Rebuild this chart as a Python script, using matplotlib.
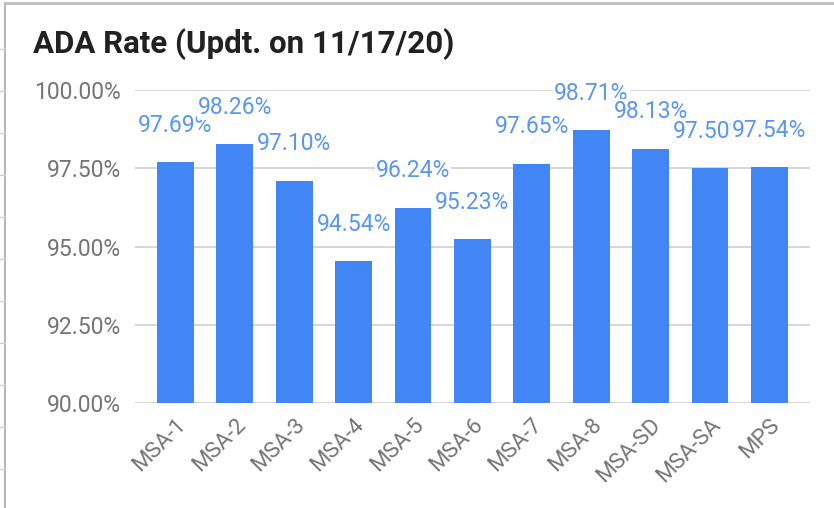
import matplotlib
matplotlib.use("Agg")

import matplotlib.pyplot as plt
from matplotlib.lines import Line2D
from matplotlib.ticker import FuncFormatter

plt.rcParams["font.family"] = ["Roboto", "DejaVu Sans"]

# data
categories = ["MSA-1", "MSA-2", "MSA-3", "MSA-4", "MSA-5", "MSA-6",
              "MSA-7", "MSA-8", "MSA-SD", "MSA-SA", "MPS"]
ada_rate = [97.69, 98.26, 97.10, 94.54, 96.24, 95.23,
            97.65, 98.71, 98.13, 97.50, 97.54]
y_ticks = [90.0, 92.5, 95.0, 97.5, 100.0]
title = "ADA Rate (Updt. on 11/17/20)"

BAR = "#4285F4"
LABEL = "#5A96F6"
GRID = "#CCCCCC"
TICK = "#757575"

fig = plt.figure(figsize=(8.34, 5.08), dpi=100)
ax = fig.add_axes([0.162, 0.2067, 0.809, 0.6161])

x = range(len(categories))
ax.bar(x, ada_rate, width=0.62, color=BAR, zorder=2)
# labels sit on an opaque white box, like the sheets chart (cuts gridlines, later label covers earlier)
for xi, v in zip(x, ada_rate):
    ax.annotate(f"{v:.2f}%", (xi, v), xytext=(0, 26.5), textcoords="offset points",
                ha="center", va="center", fontsize=16.5, color=LABEL, zorder=3,
                bbox=dict(boxstyle="square,pad=0.05", fc="white", ec="none"))

ax.set_ylim(90, 100)
ax.set_xlim(-0.68, len(categories) - 1 + 0.68)
ax.set_yticks(y_ticks)
ax.yaxis.set_major_formatter(FuncFormatter(lambda v, _: f"{v:.2f}%"))
ax.grid(axis="y", color=GRID, linewidth=1.1, zorder=0)
ax.set_xticks(list(x))
ax.set_xticklabels(categories, rotation=45, ha="right", va="top",
                   rotation_mode="anchor", fontsize=16, color=TICK)
ax.tick_params(axis="both", length=0)
ax.tick_params(axis="y", pad=10, labelsize=16.5, labelcolor=TICK)
ax.tick_params(axis="x", pad=8)
for s in ax.spines.values():
    s.set_visible(False)

fig.text(33 / 834, 1 - 44 / 508, title, fontsize=22.5, fontweight="bold",
         color="#212121", ha="left", va="center")

# card border + spreadsheet grid stubs at the left edge
fig.add_artist(Line2D([5 / 834, 5 / 834], [0, 1 - 3 / 508], color="#A8A8A8",
                      linewidth=1.2, transform=fig.transFigure))
fig.add_artist(Line2D([5 / 834, 1], [1 - 3 / 508, 1 - 3 / 508], color="#BDBDBD",
                      linewidth=2, transform=fig.transFigure))
for yy in range(49, 508, 42):
    fig.add_artist(Line2D([0, 5 / 834], [1 - yy / 508, 1 - yy / 508], color="#D0D0D0",
                          linewidth=1, transform=fig.transFigure))

fig.savefig("out.png", dpi=100, facecolor="white")
